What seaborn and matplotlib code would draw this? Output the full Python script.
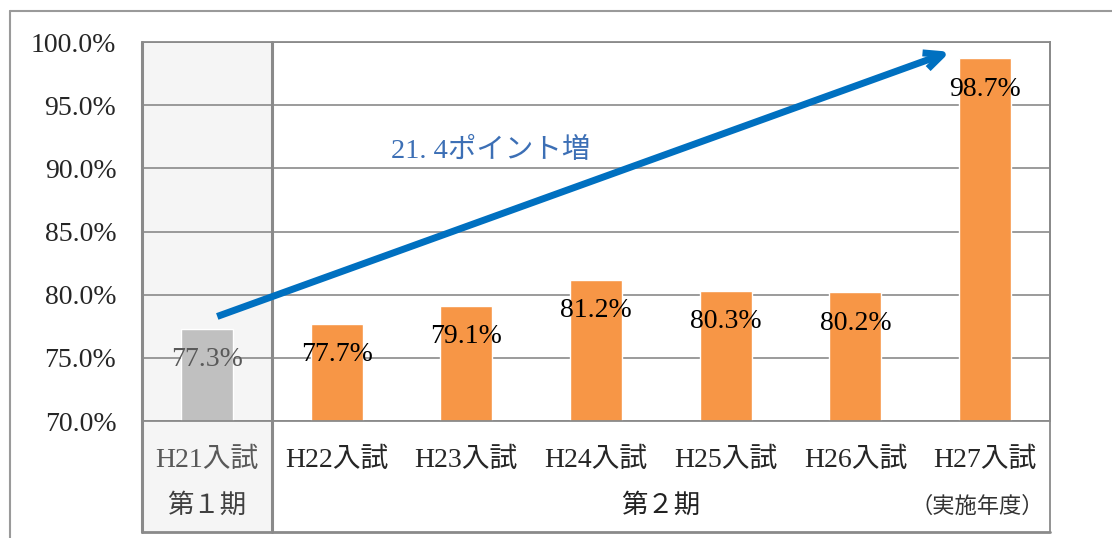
import pandas as pd
import matplotlib.pyplot as plt
import seaborn as sns
from matplotlib.patches import Rectangle
from matplotlib.lines import Line2D
import matplotlib.transforms as mtransforms

# Data
exams = ["H21入試", "H22入試", "H23入試", "H24入試", "H25入試", "H26入試", "H27入試"]
rates = [77.3, 77.7, 79.1, 81.2, 80.3, 80.2, 98.7]
period_labels = ["第１期", "第２期"]
gain_label = "21. 4ポイント増"
note_label = "（実施年度）"
yticks = [70, 75, 80, 85, 90, 95, 100]

bar_colors = ["#C0C0C0"] + ["#F79646"] * 6
grid_grey = "#8A8A8A"

df = pd.DataFrame({"exam": exams, "rate": rates})

sns.set_style("white")
plt.rcParams['font.family'] = ['Liberation Serif', 'Noto Sans CJK JP']

fig = plt.figure(figsize=(11.12, 5.38), dpi=100)
ax = fig.add_axes([142 / 1112, 117 / 538, 908 / 1112, 379 / 538])

sns.barplot(data=df, x="exam", y="rate", hue="exam", palette=bar_colors,
            width=0.4, legend=False, ax=ax, zorder=2, saturation=1)

ax.set_ylim(70, 100)
ax.set_xlim(-0.5, len(exams) - 0.5)
ax.set_yticks(yticks)
ax.set_yticklabels([f"{t:.1f}%" for t in yticks], fontsize=20)
ax.set_xlabel("")
ax.set_ylabel("")
ax.grid(axis="y", color=grid_grey, linewidth=1.2)
ax.set_axisbelow(True)
ax.tick_params(axis="y", direction="out", length=6.5, width=1.1, color=grid_grey, pad=12)
ax.tick_params(axis="x", length=0, pad=19)
ax.set_xticks(range(len(exams)))
ax.set_xticklabels(exams, fontsize=20)
ax.get_xticklabels()[0].set_color("#595959")

for side in ["top", "right", "bottom"]:
    ax.spines[side].set_color(grid_grey)
    ax.spines[side].set_linewidth(1.3)
ax.spines["left"].set_visible(False)

# Lower table: grey first-period column and borders
low = -111 / 379
trans = mtransforms.blended_transform_factory(ax.transData, ax.transAxes)
ax.add_patch(Rectangle((-0.5, low), 1, 1 - low, transform=trans, facecolor="#F5F5F5",
                       edgecolor="none", clip_on=False, zorder=0.1))
for xv in [-0.5, 0.5]:
    ax.add_line(Line2D([xv, xv], [low, 1], transform=trans, color=grid_grey,
                       linewidth=2.2, clip_on=False, zorder=3))
ax.add_line(Line2D([len(exams) - 0.5] * 2, [low, 1], transform=trans, color=grid_grey,
                   linewidth=1.3, clip_on=False, zorder=3))
ax.add_line(Line2D([-0.5, len(exams) - 0.5], [low, low], transform=trans, color=grid_grey,
                   linewidth=2.0, clip_on=False, zorder=3))

row2 = -84 / 379
ax.text(0, row2, period_labels[0], transform=trans, ha="center", va="center",
        fontsize=19, color="#404040")
ax.text(3.5, row2, period_labels[1], transform=trans, ha="center", va="center",
        fontsize=19, color="#222222")
ax.text(5.94, row2 - 0.005, note_label, transform=trans, ha="center", va="center",
        fontsize=16, color="#333333")

# Value labels inside bars
for i, v in enumerate(rates):
    ax.text(i, v - 2.45, f"{v:.1f}%", ha="center", va="center", fontsize=20,
            color="#595959" if i == 0 else "black", zorder=4)

# Trend arrow and note
ax.annotate("", xy=(5.75, rates[-1] + 0.6), xytext=(0.06, rates[0] + 0.9),
            arrowprops=dict(arrowstyle="->,head_length=1.3,head_width=0.6",
                            color="#0070C0", linewidth=5, capstyle="butt"),
            zorder=5)
ax.text(2.19, 91.4, gain_label, ha="center", va="center", fontsize=20.5,
        color="#3C6FB5", zorder=5)

# Outer frame
fig.add_artist(Line2D([10 / 1112, 10 / 1112], [0, 1 - 11 / 538], color="#9A9A9A", linewidth=1.5))
fig.add_artist(Line2D([10 / 1112, 1], [1 - 11 / 538] * 2, color="#9A9A9A", linewidth=1.5))

fig.savefig("out.png", dpi=100, facecolor="white")
